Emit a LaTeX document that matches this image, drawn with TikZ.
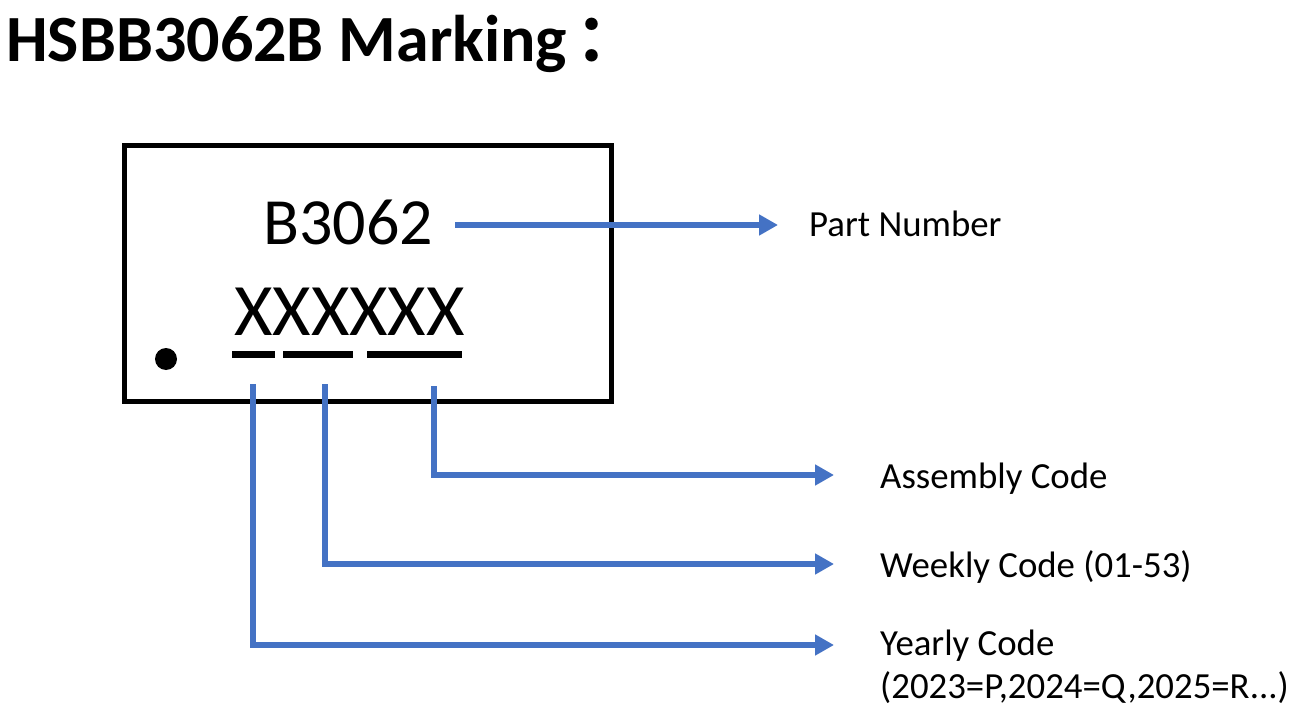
\documentclass[tikz,border=0pt]{standalone}
\usepackage{fontspec}
\setmainfont{Carlito}
\newfontfamily\cjk{Noto Sans CJK SC}[BoldFont={Noto Sans CJK SC Bold}]
\usetikzlibrary{arrows.meta}
\definecolor{markblue}{HTML}{4472C4}
\tikzset{
  link/.style={markblue, line width=6pt, -{Triangle[length=19pt,width=20pt]}},
  lbl/.style={anchor=base west, inner sep=0, font=\fontsize{36.8}{43}\selectfont, align=left},
}
\begin{document}
\begin{tikzpicture}[x=1pt,y=-1pt]
\useasboundingbox (0,0) rectangle (1306,719);
\node[anchor=base west, inner sep=0, font=\fontsize{66}{70}\selectfont\bfseries] (title) at (6,62) {HSBB3062B Marking{\cjk\hspace{8pt}：}};
\draw[line width=5pt] (124.5,145.5) rectangle (611.5,401.5);
\fill (166,359) circle (11pt);
\node[anchor=base west, inner sep=0, font=\fontsize{66}{70}\selectfont] (part) at (263,245) {B3062};
\node[anchor=base west, inner sep=0, font=\fontsize{74}{80}\selectfont] (code) at (234,335) {XXXXXX};
\foreach \a/\b in {232/275,283/353,367/462}
 \draw[line width=7pt] (\a,354.5) -- (\b,354.5);
\node[lbl] (pnum) at (809,237) {Part Number};
\node[lbl] (asm) at (880,488) {Assembly Code};
\node[lbl] (week) at (880,577) {Weekly Code (01-53)};
\node[lbl] (year) at (880,698) {Yearly Code\\(2023=P,2024=Q,2025=R{.}{.}{.})};
\coordinate (pnStart) at (455,225);
\coordinate (pnTip) at (778,225);
\coordinate (yr) at (253,384);
\coordinate (wk) at (325,384);
\coordinate (as) at (434,386);
\coordinate (yrTip) at (834,645);
\coordinate (wkTip) at (834,564);
\coordinate (asTip) at (834,475);
\draw[link] (pnStart) -- (pnTip);
\draw[link] (as) |- (asTip);
\draw[link] (wk) |- (wkTip);
\draw[link] (yr) |- (yrTip);
\end{tikzpicture}
\end{document}
